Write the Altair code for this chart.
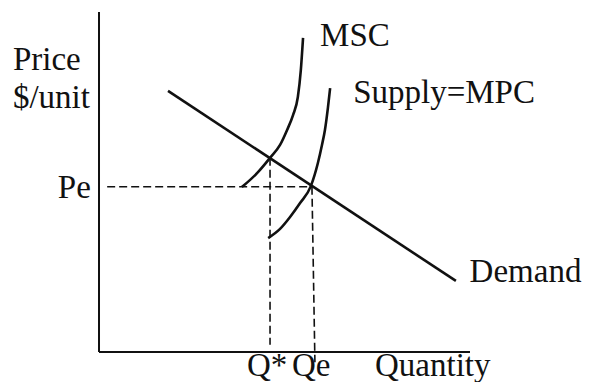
import altair as alt
import pandas as pd

# Curves (quantity, price) in diagram units
demand_q = [18.6, 96.2]
demand_p = [76.8, 20.9]

msc_q = [38.5, 42.6, 46.1, 48.8, 50.7, 52.3, 53.6, 54.4, 55.0]
msc_p = [48.5, 52.6, 57.1, 60.9, 65.3, 69.7, 75.0, 82.9, 92.4]

supply_q = [45.6, 48.8, 51.5, 54.2, 57.1, 59.0, 60.1, 60.9, 61.7, 62.3]
supply_p = [33.5, 36.2, 39.7, 43.8, 48.8, 55.6, 60.9, 65.3, 71.8, 77.6]

# Equilibrium reference values
pe = 48.6
q_star = 46.1
p_star = 57.1
q_e = 57.4
pe_start = 2.2
q_star_bottom = 2.1
q_e_bottom = -3.0

# Axes extents
axis_max_q = 100
axis_max_p = 100

# Labels
label_text = ["MSC", "Supply=MPC", "Price", "$/unit", "Demand", "Q*", "Qe", "Quantity"]
label_q = [59.6, 68.5, -23.2, -23.2, 99.9, 39.9, 52.0, 74.4]
label_p = [90.0, 73.2, 82.9, 71.8, 20.6, -7.0, -7.0, -7.0]
pe_label = "Pe"
pe_label_q = -2.2
pe_label_p = 45.3

XDOM = [-24.53, 130.46]
YDOM = [-8.82, 101.18]
xs = alt.Scale(domain=XDOM, nice=False, zero=False)
ys = alt.Scale(domain=YDOM, nice=False, zero=False)
X = lambda f="q": alt.X(f"{f}:Q", scale=xs, axis=None)
Y = lambda f="p": alt.Y(f"{f}:Q", scale=ys, axis=None)
INK = "#111111"
FONT = "Liberation Serif"


def curve(qs, ps, name):
    return pd.DataFrame({"q": qs, "p": ps, "o": list(range(len(qs))), "s": name})


curves = pd.concat([
    curve(demand_q, demand_p, "Demand"),
    curve(msc_q, msc_p, "MSC"),
    curve(supply_q, supply_p, "Supply"),
])

curve_layer = alt.Chart(curves).mark_line(color=INK, strokeWidth=2.6, interpolate="monotone").encode(
    x=X(), y=Y(), order="o:Q", detail="s:N"
)

# Axes
axes_df = pd.DataFrame({
    "q": [0, 0], "p": [0, 0], "q2": [0, axis_max_q], "p2": [axis_max_p, 0]
})
axes_layer = alt.Chart(axes_df).mark_rule(color=INK, strokeWidth=2).encode(
    x=X(), y=Y(), x2="q2:Q", y2="p2:Q"
)

# Dashed guides
dash_df = pd.DataFrame({
    "q": [pe_start, q_star, q_e],
    "p": [pe, p_star, pe],
    "q2": [q_e, q_star, q_e + 0.8],
    "p2": [pe, q_star_bottom, q_e_bottom],
})
dash_layer = alt.Chart(dash_df).mark_rule(color=INK, strokeWidth=1.6, strokeDash=[8, 4]).encode(
    x=X(), y=Y(), x2="q2:Q", y2="p2:Q"
)

labels_df = pd.DataFrame({"t": label_text, "q": label_q, "p": label_p})
label_layer = alt.Chart(labels_df).mark_text(
    align="left", baseline="alphabetic", font=FONT, fontSize=33, color=INK
).encode(x=X(), y=Y(), text="t:N")

pe_df = pd.DataFrame({"t": [pe_label], "q": [pe_label_q], "p": [pe_label_p]})
pe_layer = alt.Chart(pe_df).mark_text(
    align="right", baseline="alphabetic", font=FONT, fontSize=33, color=INK
).encode(x=X(), y=Y(), text="t:N")

chart = alt.layer(axes_layer, dash_layer, curve_layer, label_layer, pe_layer).properties(
    width=575, height=374, autosize=alt.AutoSizeParams(type="none"), padding=0
).configure(background="white", view=alt.ViewConfig(stroke=None))

chart.save("out.html", embed_options={"renderer": "svg", "actions": False})
